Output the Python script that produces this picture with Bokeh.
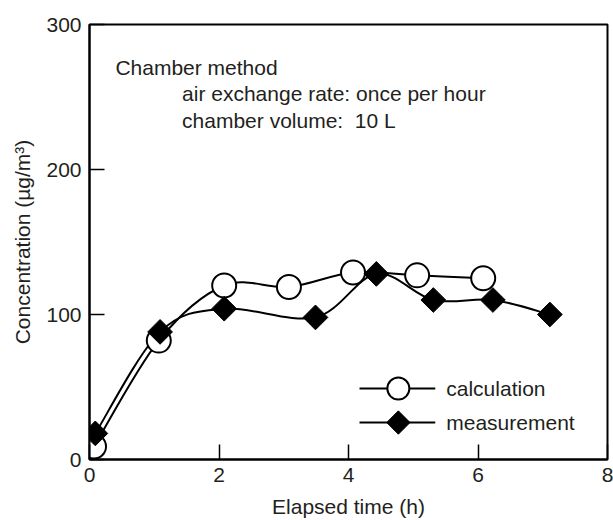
import numpy as np
from bokeh.plotting import figure
from bokeh.models import Range1d, FixedTicker, Label
from bokeh.core.properties import value
from bokeh.embed import file_html
from bokeh.resources import INLINE

# ---- data ----
calc_t = [0.07, 1.07, 2.08, 3.08, 4.07, 5.06, 6.08]
calc_c = [9, 82, 120, 119, 129, 127, 125]
meas_t = [0.09, 1.09, 2.08, 3.49, 4.43, 5.31, 6.23, 7.11]
meas_c = [18, 88, 104, 98, 128, 110, 110, 100]
x_ticks = [0, 2, 4, 6, 8]
y_ticks = [0, 100, 200, 300]
series_labels = ["calculation", "measurement"]
note_lines = ["Chamber method",
              "air exchange rate: once per hour",
              "chamber volume:\u00a0 10 L"]

FONT = "Liberation Sans"
FS = "21px"
TXT = "#231f20"


def catmull_bezier(xs, ys):
    P = np.column_stack([xs, ys]).astype(float)
    n = len(P)
    x0, y0, x1, y1, cx0, cy0, cx1, cy1 = ([] for _ in range(8))
    for i in range(n - 1):
        prev = P[i - 1] if i > 0 else P[i]
        nxt = P[i + 2] if i + 2 < n else P[i + 1]
        c1 = P[i] + (P[i + 1] - prev) / 6.0
        c2 = P[i + 1] - (nxt - P[i]) / 6.0
        x0.append(P[i][0]); y0.append(P[i][1])
        x1.append(P[i + 1][0]); y1.append(P[i + 1][1])
        cx0.append(c1[0]); cy0.append(c1[1])
        cx1.append(c2[0]); cy1.append(c2[1])
    return dict(x0=x0, y0=y0, x1=x1, y1=y1, cx0=cx0, cy0=cy0, cx1=cx1, cy1=cy1)


p = figure(width=613, height=520, output_backend="svg", toolbar_location=None,
           x_range=Range1d(0, 8), y_range=Range1d(0, 300),
           min_border_left=89, min_border_right=6, min_border_top=24, min_border_bottom=60)
p.grid.visible = False
p.outline_line_color = "black"
p.outline_line_width = 2
p.background_fill_color = "white"
p.border_fill_color = "white"

for ax, ticks in ((p.xaxis[0], x_ticks), (p.yaxis[0], y_ticks)):
    ax.ticker = FixedTicker(ticks=ticks)
    ax.axis_line_width = 2
    ax.axis_line_color = "black"
    ax.major_tick_in = 15
    ax.major_tick_out = 0
    ax.major_tick_line_width = 1.5
    ax.major_tick_line_color = "black"
    ax.minor_tick_line_color = None
    ax.major_label_text_font = FONT
    ax.major_label_text_font_size = FS
    ax.major_label_text_color = TXT
    ax.axis_label_text_font = FONT
    ax.axis_label_text_font_size = FS
    ax.axis_label_text_font_style = "normal"
    ax.axis_label_text_color = TXT

p.xaxis.axis_label = "Elapsed time (h)"
p.yaxis.axis_label = "Concentration (\u00b5g/m\u00b3)"
p.xaxis.major_label_standoff = 8
p.yaxis.major_label_standoff = 8
p.xaxis.axis_label_standoff = 10
p.yaxis.axis_label_standoff = 9

# smooth connecting curves
p.bezier(source=catmull_bezier(calc_t, calc_c), x0="x0", y0="y0", x1="x1", y1="y1",
         cx0="cx0", cy0="cy0", cx1="cx1", cy1="cy1", line_color="black", line_width=2)
p.bezier(source=catmull_bezier(meas_t, meas_c), x0="x0", y0="y0", x1="x1", y1="y1",
         cx0="cx0", cy0="cy0", cx1="cx1", cy1="cy1", line_color="black", line_width=2)

# markers
p.scatter(calc_t, calc_c, marker="circle", size=24, fill_color="white",
          line_color="black", line_width=2)
p.scatter(meas_t, meas_c, marker="square", angle=np.pi / 4, size=17.5,
          fill_color="black", line_color="black", line_width=1)

# annotation text
note_x = [0.40, 1.43, 1.43]
note_y = [270.2, 252.3, 234.0]
for tx, ty, t in zip(note_x, note_y, note_lines):
    p.add_layout(Label(x=tx, y=ty, text=t, text_font=FONT, text_font_size=FS,
                       text_baseline="alphabetic", text_color=TXT))

# legend drawn inside the frame
leg_x0, leg_x1, leg_mx, leg_tx = 4.17, 5.34, 4.77, 5.51
leg_y = [48.9, 25.5]
p.segment(x0=[leg_x0] * 2, y0=leg_y, x1=[leg_x1] * 2, y1=leg_y,
          line_color="black", line_width=2)
p.scatter([leg_mx], [leg_y[0]], marker="circle", size=22, fill_color="white",
          line_color="black", line_width=2)
p.scatter([leg_mx], [leg_y[1]], marker="square", angle=np.pi / 4, size=16.5,
          fill_color="black", line_color="black", line_width=1)
p.text(x=[leg_tx] * 2, y=leg_y, text=series_labels, text_baseline="middle",
       text_align="left", text_font=value(FONT), text_font_size=value(FS),
       text_color=TXT)

open("out.html", "w").write(file_html(p, INLINE))
